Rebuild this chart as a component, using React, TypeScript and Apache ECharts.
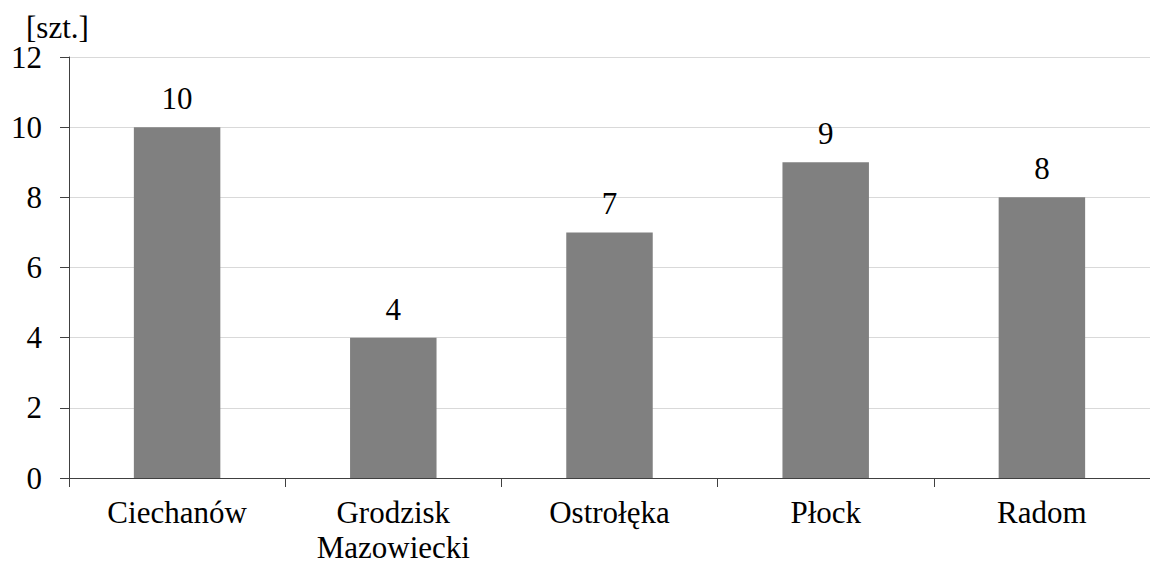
import React, { useEffect, useRef } from "react";
import * as echarts from "echarts";

const categories: string[] = ["Ciechanów", "Grodzisk\nMazowiecki", "Ostrołęka", "Płock", "Radom"];
const values: number[] = [10, 4, 7, 9, 8];
const unitLabel = "[szt.]";
const yMin = 0;
const yMax = 12;
const yInterval = 2;

const FONT = "Liberation Serif, Times New Roman, serif";

export default function App() {
  const ref = useRef<HTMLDivElement>(null);

  useEffect(() => {
    if (!ref.current) return;
    const chart = echarts.init(ref.current, undefined, { renderer: "svg" });
    chart.setOption({
      animation: false,
      backgroundColor: "#ffffff",
      grid: { left: 69, top: 57, bottom: 85.5, right: -10.5, containLabel: false },
      graphic: [
        {
          type: "text",
          left: 26,
          top: 12,
          style: { text: unitLabel, fontSize: 31, fontFamily: FONT, fill: "#000000" },
        },
      ],
      xAxis: {
        type: "category",
        data: categories,
        boundaryGap: true,
        axisLine: { show: true, lineStyle: { color: "#404040", width: 1 } },
        axisTick: { show: true, length: 9, alignWithLabel: false, lineStyle: { color: "#404040" } },
        axisLabel: {
          interval: 0,
          margin: 17,
          fontSize: 31,
          lineHeight: 35,
          color: "#000000",
          fontFamily: FONT,
        },
        splitLine: { show: false },
      },
      yAxis: {
        type: "value",
        min: yMin,
        max: yMax,
        interval: yInterval,
        axisLine: { show: true, lineStyle: { color: "#404040", width: 1 } },
        axisTick: { show: true, length: 9, lineStyle: { color: "#404040" } },
        axisLabel: { margin: 27, fontSize: 31, color: "#000000", fontFamily: FONT },
        splitLine: { show: true, lineStyle: { color: "#d9d9d9", width: 1 } },
      },
      series: [
        {
          type: "bar",
          data: values,
          barWidth: "40%",
          itemStyle: { color: "#808080" },
          label: {
            show: true,
            position: "top",
            distance: 13,
            fontSize: 31,
            color: "#000000",
            fontFamily: FONT,
          },
        },
      ],
    });
    return () => chart.dispose();
  }, []);

  return (
    <div
      ref={ref}
      style={{ position: "absolute", left: 0, top: 0, width: 1150, height: 565 }}
    />
  );
}
